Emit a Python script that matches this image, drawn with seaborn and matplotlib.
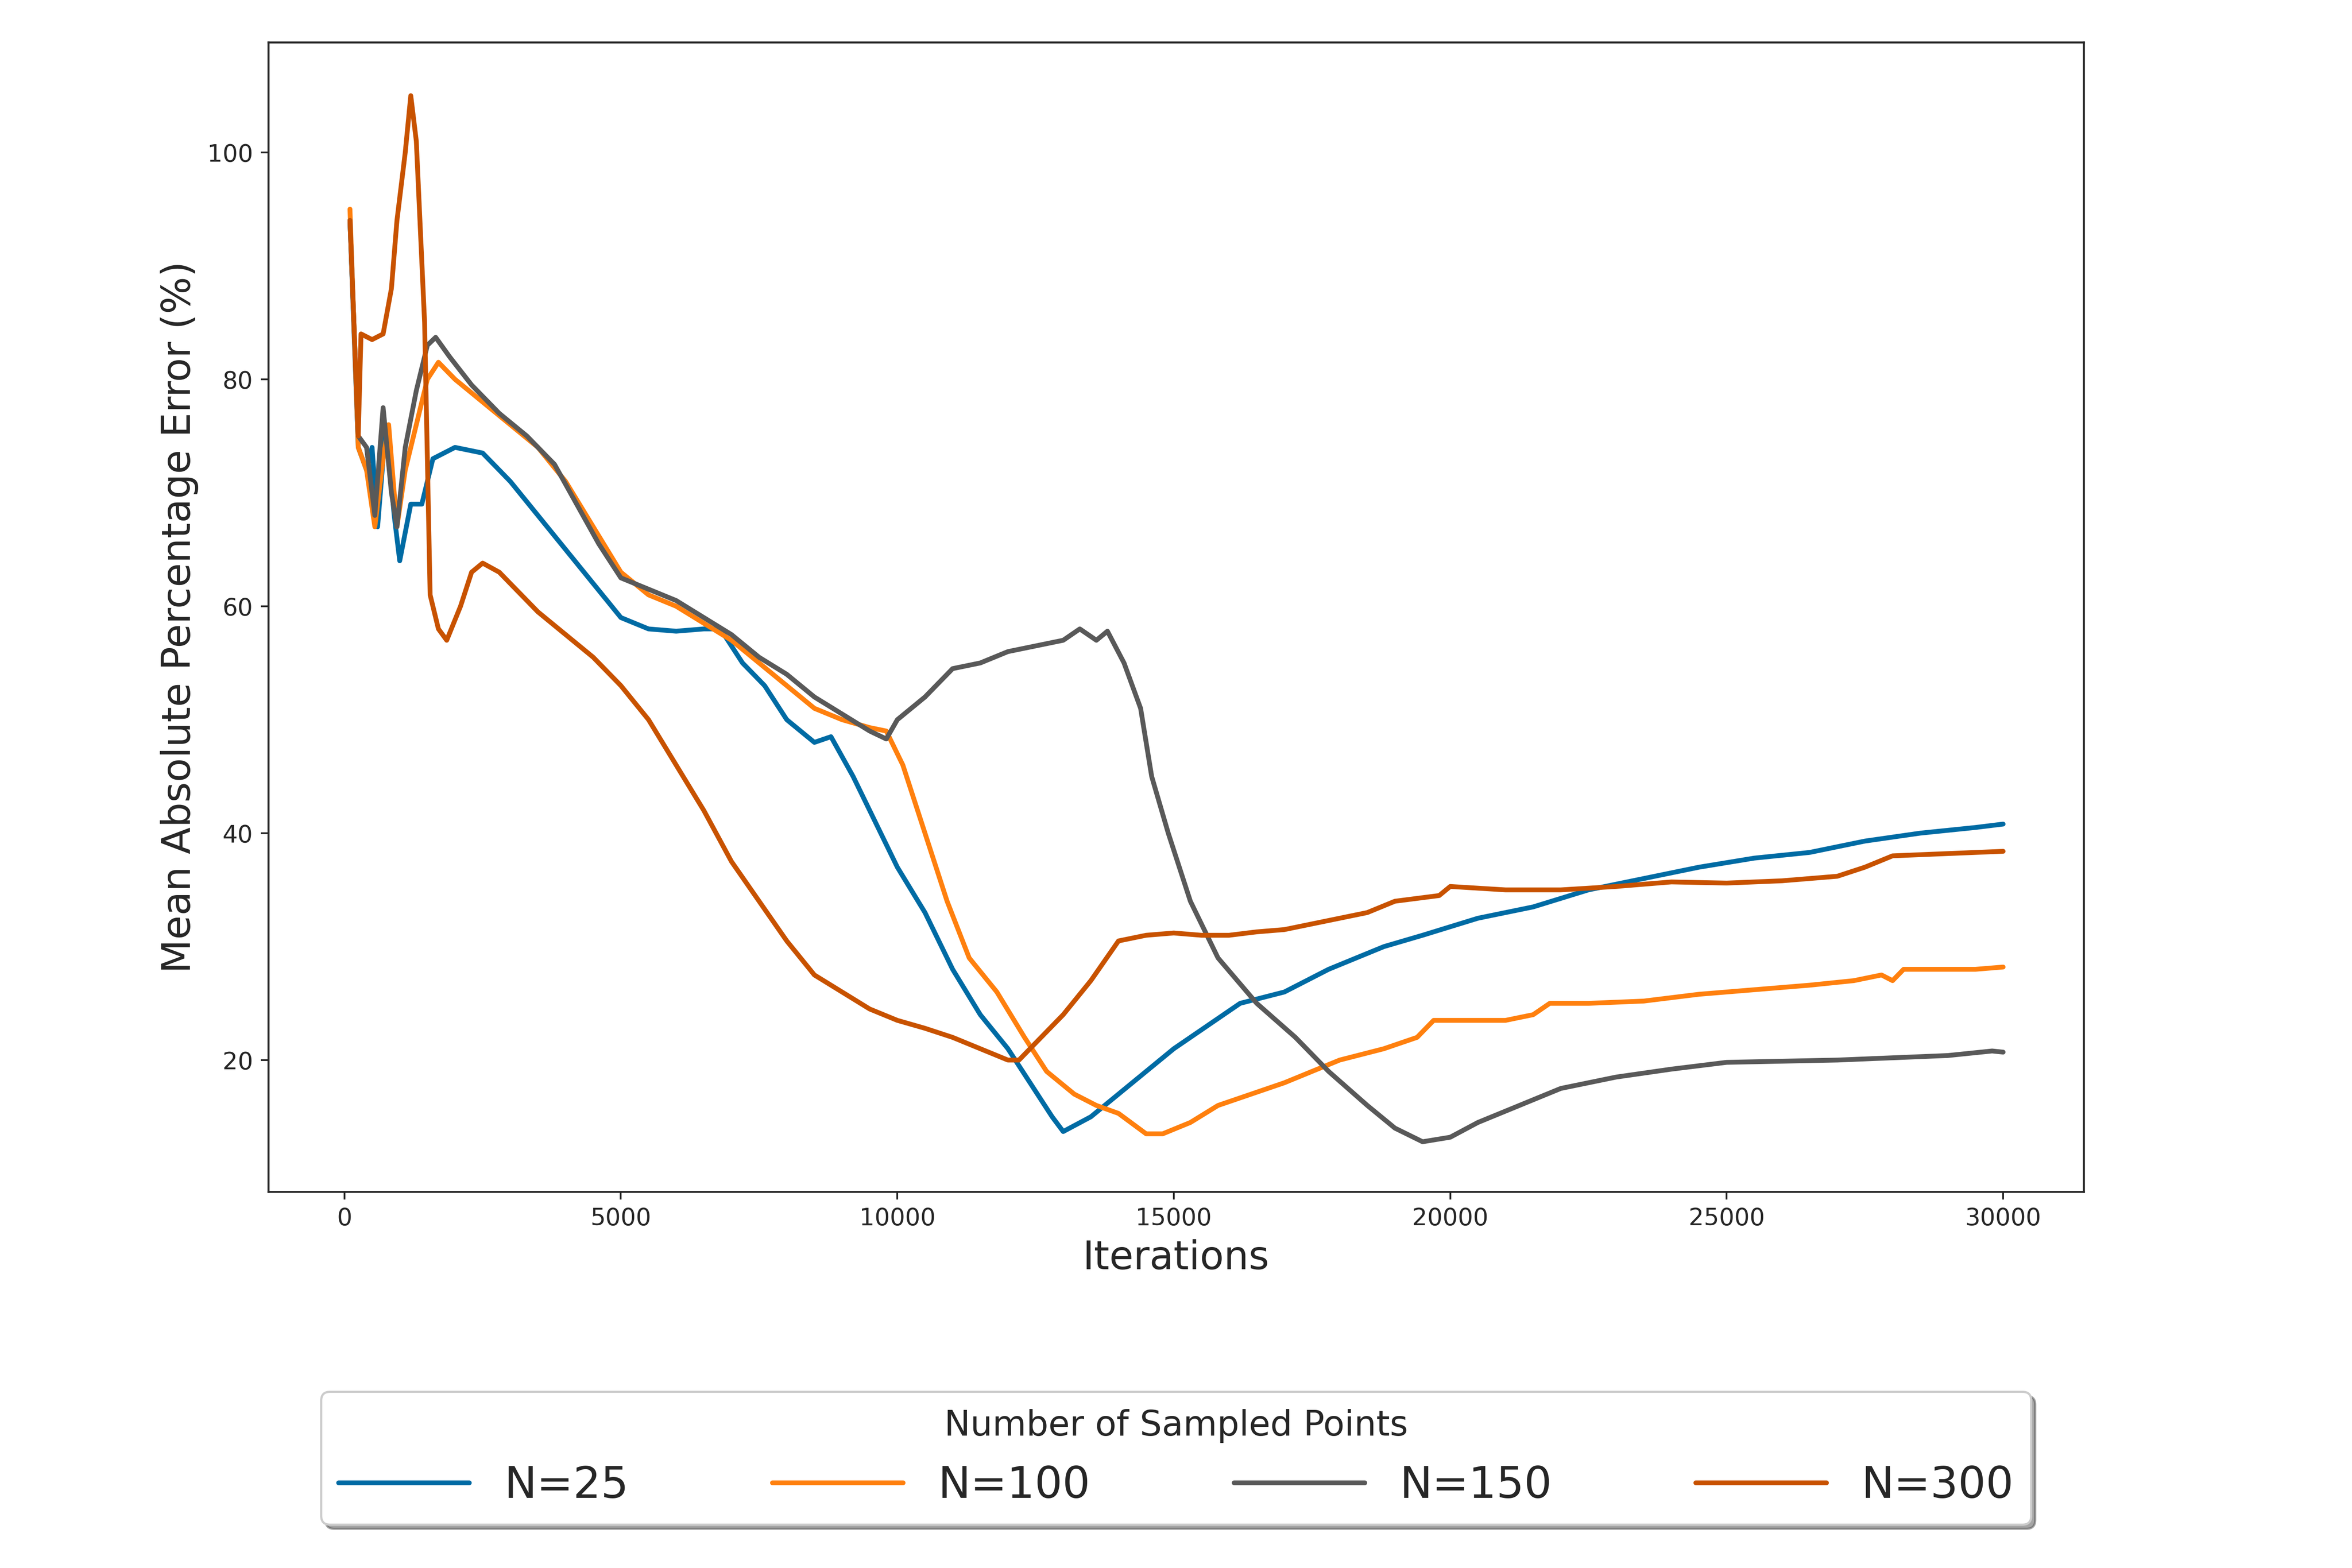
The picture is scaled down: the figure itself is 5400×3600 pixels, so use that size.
import numpy as np
import pandas as pd
import matplotlib
matplotlib.use("Agg")
import matplotlib.pyplot as plt
import seaborn as sns

# ─────────────────────────────────────────────
#  Data
# ─────────────────────────────────────────────
x_n25 = [100, 250, 400, 500, 600, 750, 900, 1000, 1200, 1400, 1600, 2000, 2500, 3000, 3500,
         4000, 4500, 5000, 5500, 6000, 6500, 6800, 7200, 7600, 8000, 8500, 8800, 9200, 9600,
         10000, 10500, 11000, 11500, 12000, 12400, 12800, 13000, 13500, 14000, 14500, 15000,
         15600, 16200, 17000, 17800, 18800, 19500, 20500, 21500, 22500, 23500, 24500, 25500,
         26500, 27500, 28500, 29500, 30000]
y_n25 = [94, 74, 72, 74, 67, 76, 68, 64, 69, 69, 73, 74, 73.5, 71, 68,
         65, 62, 59, 58, 57.8, 58, 58, 55, 53, 50, 48, 48.5, 45, 41,
         37, 33, 28, 24, 21, 18, 15, 13.7, 15, 17, 19, 21,
         23, 25, 26, 28, 30, 31, 32.5, 33.5, 35, 36, 37, 37.8,
         38.3, 39.3, 40, 40.5, 40.8]

x_n100 = [100, 250, 400, 550, 700, 800, 950, 1100, 1300, 1500, 1700, 2000, 2500, 3000, 3500,
          4000, 4500, 5000, 5500, 6000, 6500, 7000, 7500, 8000, 8500, 9000, 9500, 9800, 10100,
          10500, 10900, 11300, 11800, 12300, 12700, 13200, 13600, 14000, 14500, 14800, 15300,
          15800, 16400, 17000, 17500, 18000, 18800, 19400, 19700, 20200, 21000, 21500, 21800,
          22500, 23500, 24500, 25500, 26500, 27300, 27800, 28000, 28200, 29000, 29500, 30000]
y_n100 = [95, 74, 72, 67, 73, 76, 67, 72, 76, 80, 81.5, 80, 78, 76, 74,
          71, 67, 63, 61, 60, 58.5, 57, 55, 53, 51, 50, 49.3, 49, 46,
          40, 34, 29, 26, 22, 19, 17, 16, 15.3, 13.5, 13.5, 14.5,
          16, 17, 18, 19, 20, 21, 22, 23.5, 23.5, 23.5, 24, 25,
          25, 25.2, 25.8, 26.2, 26.6, 27, 27.5, 27, 28, 28, 28, 28.2]

x_n150 = [100, 250, 400, 550, 700, 850, 950, 1100, 1300, 1500, 1650, 1900, 2300, 2800, 3300,
          3800, 4200, 4600, 5000, 5500, 6000, 6500, 7000, 7500, 8000, 8500, 9000, 9500, 9800,
          10000, 10500, 11000, 11500, 12000, 12500, 13000, 13300, 13600, 13800, 14100, 14400,
          14600, 14900, 15300, 15800, 16500, 17200, 17800, 18500, 19000, 19500, 20000, 20500,
          21000, 21500, 22000, 23000, 24000, 25000, 26000, 27000, 28000, 29000, 29800, 30000]
y_n150 = [94, 75, 74, 68, 77.5, 70, 67, 74, 79, 83, 83.7, 82, 79.5, 77, 75,
          72.5, 69, 65.5, 62.5, 61.5, 60.5, 59, 57.5, 55.5, 54, 52, 50.5, 49, 48.3,
          50, 52, 54.5, 55, 56, 56.5, 57, 58, 57, 57.8, 55, 51,
          45, 40, 34, 29, 25, 22, 19, 16, 14, 12.8, 13.2, 14.5,
          15.5, 16.5, 17.5, 18.5, 19.2, 19.8, 19.9, 20, 20.2, 20.4, 20.8, 20.7]

x_n300 = [100, 250, 300, 500, 700, 850, 950, 1100, 1200, 1300, 1450, 1550, 1700, 1850, 2100,
          2300, 2500, 2800, 3100, 3500, 4000, 4500, 5000, 5500, 6000, 6500, 7000, 7500, 8000,
          8500, 9000, 9500, 10000, 10500, 11000, 11500, 12000, 12200, 12600, 13000, 13500,
          14000, 14500, 15000, 15500, 16000, 16500, 17000, 17500, 18000, 18500, 19000, 19800,
          20000, 21000, 22000, 23000, 24000, 25000, 26000, 27000, 27500, 28000, 29000, 30000]
y_n300 = [94, 75, 84, 83.5, 84, 88, 94, 100, 105, 101, 85, 61, 58, 57, 60,
          63, 63.8, 63, 61.5, 59.5, 57.5, 55.5, 53, 50, 46, 42, 37.5, 34, 30.5,
          27.5, 26, 24.5, 23.5, 22.8, 22, 21, 20, 20, 22, 24, 27,
          30.5, 31, 31.2, 31, 31, 31.3, 31.5, 32, 32.5, 33, 34, 34.5,
          35.3, 35, 35, 35.3, 35.7, 35.6, 35.8, 36.2, 37, 38, 38.2, 38.4]

labels = ["N=25", "N=100", "N=150", "N=300"]
colors = ["#006BA4", "#FF800E", "#595959", "#C85200"]

frames = []
for lab, xs, ys in zip(labels, [x_n25, x_n100, x_n150, x_n300],
                       [y_n25, y_n100, y_n150, y_n300]):
    frames.append(pd.DataFrame({"Iterations": xs, "MAPE": ys, "N": lab}))
df = pd.concat(frames, ignore_index=True)

# ─────────────────────────────────────────────
#  Plot
# ─────────────────────────────────────────────
sns.set_style("ticks")
plt.rcParams["font.family"] = ["DejaVu Sans"]

fig = plt.figure(figsize=(15, 10))
ax = fig.add_axes([0.114, 0.24, 0.772, 0.733])

sns.lineplot(data=df, x="Iterations", y="MAPE", hue="N", hue_order=labels,
             palette=colors, linewidth=2.2, ax=ax, sort=False, estimator=None)

ax.set_xlim(-1380, 31460)
ax.set_ylim(8.4, 109.7)
ax.set_xlabel("Iterations", fontsize=18)
ax.set_ylabel("Mean Absolute Percentage Error (%)", fontsize=18)
ax.tick_params(labelsize=11)
ax.set_yticks([20, 40, 60, 80, 100])
for s in ax.spines.values():
    s.set_linewidth(0.9)

handles, labs = ax.get_legend_handles_labels()
ax.legend(handles, labs, title="Number of Sampled Points", ncol=4,
          fontsize=20, title_fontsize=16, loc="upper center",
          bbox_to_anchor=(0.5, -0.155), shadow=True, frameon=True,
          handlelength=3, columnspacing=3.3)

fig.savefig("out.png", dpi=360)
plt.close(fig)
